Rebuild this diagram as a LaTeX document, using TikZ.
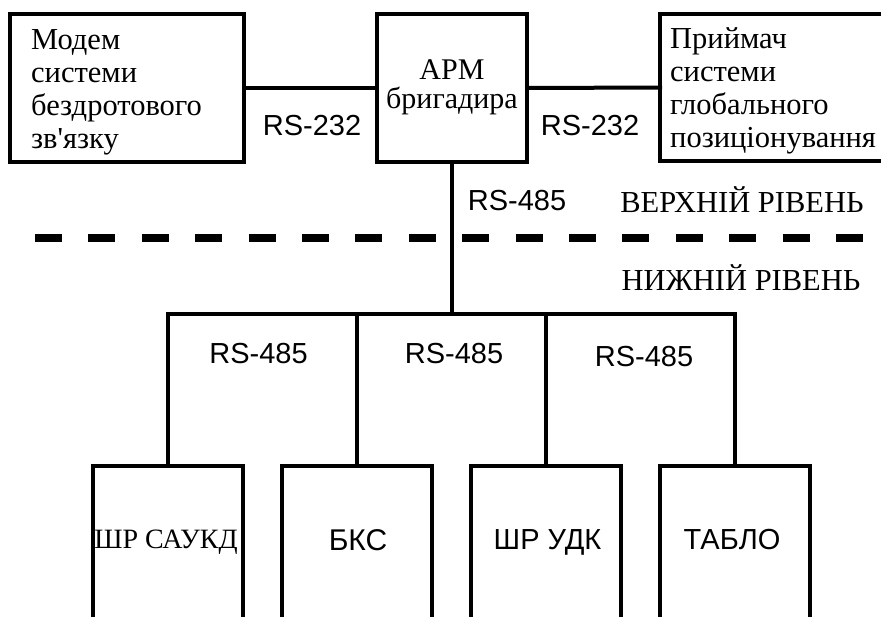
\documentclass[tikz,border=0pt]{standalone}
\usepackage{fontspec}
\setmainfont{Liberation Serif}
\setsansfont{Liberation Sans}
\begin{document}
\begin{tikzpicture}[x=1pt,y=-1pt,
  box/.style={draw, line width=4pt, inner sep=0pt, outer sep=0pt},
  wire/.style={line width=4pt, line join=miter, line cap=rect},
  levelline/.style={line width=7.5pt, dash pattern=on 27pt off 26.4pt},
  stxt/.style={font=\fontsize{30.5}{33}\selectfont, inner sep=0pt},
  atxt/.style={font=\fontsize{30}{29}\selectfont, inner sep=0pt},
  btxt/.style={font=\fontsize{28}{33}\selectfont, inner sep=0pt},
  sans/.style={font=\sffamily\fontsize{29}{33}\selectfont, inner sep=0pt}]
\useasboundingbox (0,0) rectangle (881,616);
\clip (0,0) rectangle (881,616);
% upper level boxes
\node[box, minimum width=234pt, minimum height=148pt] (modem) at (127,88) {};
\node[box, minimum width=150pt, minimum height=148pt] (arm) at (452,88) {};
\node[box, minimum width=245pt, minimum height=147pt] (gps) at (782.5,87.5) {};
% lower level boxes
\node[box, minimum width=150pt, minimum height=156pt] (b1) at (168,544) {};
\node[box, minimum width=150pt, minimum height=156pt] (b2) at (357,544) {};
\node[box, minimum width=150pt, minimum height=156pt] (b3) at (546,544) {};
\node[box, minimum width=150pt, minimum height=156pt] (b4) at (735,544) {};
% texts in boxes
\node[stxt, anchor=north west, align=left] (modemtxt) at (31,29.8)
  {Модем\\системи\\бездротового\\зв\textquotesingle язку};
\node[atxt, anchor=north, align=center] (armtxt) at (452,59.1) {АРМ\\бригадира};
\node[stxt, anchor=north west, align=left] (gpstxt) at (670,27.5)
  {Приймач\\системи\\глобального\\позиціонування};
\node[btxt, anchor=base] (t1) at (166,548) {ШР САУКД};
\node[sans, anchor=base] (t2) at (358,550) {\fontsize{30}{33}\selectfont БКС};
\node[sans, anchor=base] (t3) at (547.5,549) {ШР УДК};
\node[sans, anchor=base] (t4) at (732,549) {ТАБЛО};
% level separator
\coordinate (dl) at (35,238);
\coordinate (dr) at (866,238);
\draw[levelline] (dl) -- (dr);
\node[stxt, anchor=base] (up) at (742,212) {ВЕРХНІЙ РІВЕНЬ};
\node[stxt, anchor=base] (down) at (741,290) {НИЖНІЙ РІВЕНЬ};
% connectors
\draw[wire] (modem.east) -- (arm.west);
\draw[wire] (arm.east) -- (gps.west);
\coordinate (busL) at (168,314);
\coordinate (busR) at (735,314);
\draw[wire] (arm.south) -- (arm.south |- busL);
\draw[wire] (b1.north) -- (busL) -- (busR) -- (b4.north);
\draw[wire] (b2.north) -- (b2.north |- busL);
\draw[wire] (b3.north) -- (b3.north |- busL);
% connector labels
\node[sans, anchor=base] (l1) at (312,135) {RS-232};
\node[sans, anchor=base] (l2) at (590,135) {RS-232};
\node[sans, anchor=base] (l3) at (517,210) {RS-485};
\node[sans, anchor=base] (l4) at (258.5,363) {RS-485};
\node[sans, anchor=base] (l5) at (454,363) {RS-485};
\node[sans, anchor=base] (l6) at (644,366) {RS-485};
\end{tikzpicture}
\end{document}
